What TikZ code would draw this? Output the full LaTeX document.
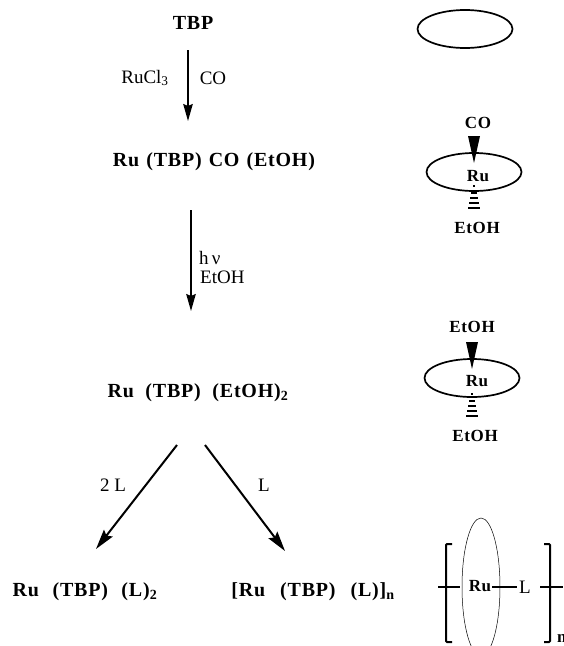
\documentclass[tikz,border=0pt]{standalone}
\usepackage{fontspec}
\setmainfont{Liberation Serif}
\newfontfamily\spbf[LetterSpace=4,BoldFont={Liberation Serif Bold}]{Liberation Serif}
\usetikzlibrary{arrows.meta,shapes.geometric}
\tikzset{
 x=1pt,y=-1pt,
 formula/.style={inner sep=0pt,font=\spbf\bfseries\fontsize{20}{23}\selectfont},
 small/.style={inner sep=0pt,font=\spbf\bfseries\fontsize{17}{20}\selectfont},
 plain/.style={inner sep=0pt,font=\fontsize{19}{22}\selectfont},
 rxn/.style={line width=1.5pt,-{Stealth[length=17pt,width=9.5pt,inset=2pt]}},
 rxnd/.style={line width=2pt,-{Stealth[length=20pt,width=11pt,inset=3pt]}},
 disc/.style={draw,line width=1.7pt,ellipse,inner sep=0pt},
 hash/.style={line width=1.3pt},
}
\newcommand{\wedgehash}[3]{% x, wedge top y, hash top y
 \fill (#1-6,#2) -- (#1+6,#2) -- (#1,#2+27) -- cycle;
 \foreach \dy/\w in {0/1,7/3,12/4,17/5,22/6}
   \draw[hash] (#1-\w,#3+\dy) -- (#1+\w,#3+\dy);
}
\begin{document}
\begin{tikzpicture}
\useasboundingbox (0,0) rectangle (563,646);
\clip (0,0) rectangle (563,646);
\node[formula] (tbp) at (193,23) {TBP};
\node[formula] (co) at (214,162) {Ru\hspace*{7pt}(TBP)\hspace*{7pt}CO\hspace*{7pt}(EtOH)};
\node[formula] (et) at (198,393) {Ru\hspace*{11.5pt}(TBP)\hspace*{11.5pt}(EtOH)\textsubscript{2}};
\node[formula] (l2) at (85,592) {Ru\hspace*{13.5pt}(TBP)\hspace*{13.5pt}(L)\textsubscript{2}};
\node[formula] (ln) at (313,592) {[Ru\hspace*{15pt}(TBP)\hspace*{15pt}(L)]\textsubscript{n}};
\coordinate (a1) at (188,50); \coordinate (b1) at (188,121);
\coordinate (a2) at (191,210); \coordinate (b2) at (191,311);
\coordinate (a3) at (177,445); \coordinate (b3) at (96,549);
\coordinate (a4) at (205,445); \coordinate (b4) at (285,551);
\draw[rxn] (a1) -- (b1);
\draw[rxn] (a2) -- (b2);
\draw[rxnd] (a3) -- (b3);
\draw[rxnd] (a4) -- (b4);
\node[plain] (r1) at (145,78) {RuCl\textsubscript{3}};
\node[plain] (r2) at (213,78) {CO};
\node[plain,anchor=west] (r3) at (199,258) {h\,ν};
\node[plain,anchor=west] (r4) at (200,277) {EtOH};
\node[plain] (r5) at (113,485) {2 L};
\node[plain] (r6) at (264,485) {L};
% schematics
\node[disc,minimum width=95pt,minimum height=38pt] (e1) at (465,29) {};
\node[disc,minimum width=95pt,minimum height=38pt] (e2) at (474,172) {};
\node[small] (ru2) at (478,176) {Ru};
\node[small] (co2) at (478,123) {CO};
\node[small] (eo2) at (477,228) {EtOH};
\wedgehash{474}{136}{186}
\node[disc,minimum width=95pt,minimum height=38pt] (e3) at (472,378) {};
\node[small] (ru3) at (477,381) {Ru};
\node[small] (eo3a) at (472,327) {EtOH};
\node[small] (eo3b) at (475,436) {EtOH};
\wedgehash{472}{342}{394}
\draw[line width=.5pt] (481,587) ellipse (19 and 69);
\node[small] (ru4) at (480,586) {Ru};
\node[plain] (l4) at (525,587) {L};
\coordinate (s1) at (438,587); \coordinate (s2) at (460,587);
\coordinate (s3) at (492,587); \coordinate (s4) at (517,587);
\coordinate (s5) at (540,587); \coordinate (s6) at (563,587);
\draw[line width=1.8pt] (s1) -- (s2) (s3) -- (s4) (s5) -- (s6);
\draw[line width=2pt,rounded corners=1pt] (452,544) -- (446,544) -- (446,642) -- (452,642);
\draw[line width=2pt,rounded corners=1pt] (544,544) -- (550,544) -- (550,642) -- (544,642);
\node[small,anchor=base west] (n4) at (557,642) {n};
\end{tikzpicture}
\end{document}
